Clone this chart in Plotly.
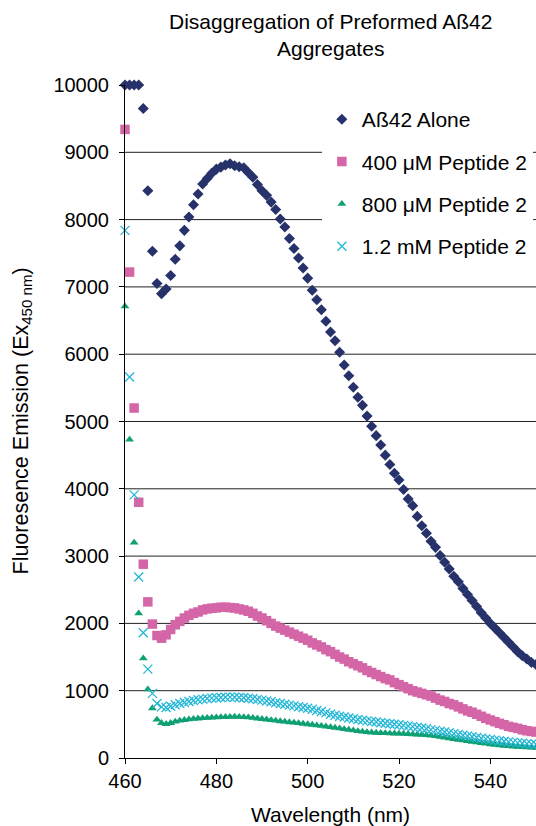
import plotly.graph_objects as go

wavelength = list(range(460, 551))

abeta_alone = [10000, 10000, 10000, 10000, 9650, 8430, 7530, 7050, 6900, 6970,
               7170, 7410, 7610, 7840, 8040, 8220, 8380, 8530, 8610, 8690,
               8750, 8780, 8810, 8830, 8800, 8785, 8770, 8700, 8630, 8520,
               8430, 8360, 8260, 8150, 8010, 7890, 7720, 7570, 7430, 7280,
               7130, 6950, 6810, 6660, 6490, 6330, 6200, 6030, 5840, 5680,
               5510, 5360, 5240, 5080, 4930, 4790, 4650, 4500, 4360, 4230,
               4130, 3990, 3850, 3750, 3590, 3450, 3340, 3220, 3130, 3010,
               2910, 2810, 2700, 2620, 2520, 2430, 2340, 2250, 2160, 2080,
               2000, 1930, 1860, 1790, 1720, 1650, 1580, 1520, 1470, 1420, 1390]

pep_400uM = [9340, 7220, 5200, 3800, 2880, 2320, 1990, 1820, 1780, 1830,
             1910, 1980, 2030, 2080, 2120, 2150, 2170, 2200, 2215, 2225,
             2230, 2240, 2240, 2235, 2230, 2215, 2200, 2180, 2150, 2110,
             2080, 2040, 2000, 1960, 1930, 1900, 1870, 1840, 1810, 1780,
             1750, 1710, 1680, 1650, 1610, 1580, 1540, 1500, 1470, 1430,
             1400, 1370, 1340, 1300, 1270, 1240, 1210, 1180, 1160, 1120,
             1090, 1060, 1030, 1000, 980, 960, 940, 920, 890, 860,
             840, 810, 790, 760, 730, 700, 680, 650, 620, 590,
             565, 540, 515, 495, 470, 455, 440, 420, 405, 395, 385]

pep_800uM = [6710, 4730, 3200, 2150, 1480, 1020, 740, 570, 520, 505,
             520, 540, 555, 565, 575, 582, 588, 593, 597, 601,
             605, 608, 610, 612, 613, 612, 608, 603, 596, 588,
             580, 572, 563, 555, 547, 540, 532, 525, 518, 510,
             502, 494, 486, 477, 468, 460, 450, 440, 430, 420,
             410, 400, 392, 385, 380, 376, 372, 369, 366, 364,
             362, 360, 357, 354, 350, 346, 341, 335, 326, 316,
             305, 294, 283, 272, 262, 252, 242, 232, 222, 213,
             205, 197, 190, 183, 177, 171, 166, 162, 158, 155, 152]

pep_1_2mM = [7840, 5660, 3910, 2690, 1860, 1320, 960, 810, 760, 750,
             770, 790, 810, 825, 840, 855, 865, 875, 885, 890,
             895, 900, 902, 905, 903, 900, 895, 888, 880, 870,
             860, 848, 835, 822, 810, 798, 786, 774, 762, 750,
             738, 724, 705, 690, 670, 650, 635, 620, 608, 595,
             583, 572, 562, 552, 543, 534, 525, 517, 510, 502,
             494, 485, 476, 466, 456, 445, 434, 422, 410, 398,
             386, 374, 362, 350, 338, 326, 315, 304, 294, 284,
             275, 266, 257, 248, 240, 232, 225, 218, 212, 206, 200]

series_names = ["Aß42 Alone", "400 μM Peptide 2", "800 μM Peptide 2", "1.2 mM Peptide 2"]
x_ticks = [460, 480, 500, 520, 540]
y_ticks = [0, 1000, 2000, 3000, 4000, 5000, 6000, 7000, 8000, 9000, 10000]
y_tick_labels = ["0", "1000", "2000", "3000", "4000", "5000", "6000", "7000",
                 "8000", "9000", "10000"]
grid_vals = [1000, 2000, 3000, 4000, 5000, 6000, 7000, 8000, 9000]

FONT = "Liberation Sans, Arial, Helvetica, sans-serif"

styles = [
    dict(symbol="diamond", size=8.5, color="#27326A"),
    dict(symbol="square", size=9.5, color="#D466A8"),
    dict(symbol="triangle-up", size=7.8, color="#0FA074"),
    dict(symbol="x-thin", size=9, color="#22B6D6"),
]
series = [abeta_alone, pep_400uM, pep_800uM, pep_1_2mM]

fig = go.Figure()
for i, (name, vals, st) in enumerate(zip(series_names, series, styles)):
    marker = dict(symbol=st["symbol"], size=st["size"], color=st["color"])
    if st["symbol"] == "x-thin":
        marker["line"] = dict(color=st["color"], width=1.3)
    else:
        marker["line"] = dict(width=0)
    fig.add_trace(go.Scatter(x=wavelength, y=vals, mode="markers", name=name,
                             marker=marker, cliponaxis=False,
                             legendgroup="g%d" % i))

# horizontal gridlines (no line at the top value), from the grid value list
shapes = [dict(type="line", xref="paper", yref="y", x0=0, x1=1, y0=v, y1=v,
               line=dict(color="#222222", width=1), layer="below")
          for v in grid_vals]

fig.update_layout(
    width=536, height=826,
    margin=dict(l=125, r=0, t=85, b=68),
    paper_bgcolor="white", plot_bgcolor="white",
    font=dict(family=FONT, size=20, color="black"),
    showlegend=True,
    legend=dict(x=0.479, y=0.979, xanchor="left", yanchor="top",
                bgcolor="white", borderwidth=0, tracegroupgap=12,
                font=dict(family=FONT, size=21, color="black")),
    xaxis=dict(range=[460, 550], tickvals=x_ticks, ticks="outside", ticklen=5,
               tickcolor="black", showline=True, linecolor="black", linewidth=1,
               showgrid=False, zeroline=False, tickfont=dict(size=20)),
    yaxis=dict(range=[0, 10000], tickvals=y_ticks, ticktext=y_tick_labels,
               ticks="outside", ticklen=5,
               tickcolor="black", showline=True, linecolor="black", linewidth=1,
               showgrid=False, zeroline=False, tickfont=dict(size=20),
               ticklabelstandoff=6),
    shapes=shapes,
    annotations=[
        dict(text="Disaggregation of Preformed Aß42<br>Aggregates",
             xref="paper", yref="paper", x=0.5, y=(758 - 35) / 673,
             xanchor="center", yanchor="middle", showarrow=False,
             font=dict(family=FONT, size=21, color="black")),
        dict(text="Fluoresence Emission (Ex<sub>450 nm</sub>)", textangle=-90,
             xref="paper", yref="paper", x=(22 - 125) / 411, y=0.5,
             xanchor="center", yanchor="middle", showarrow=False,
             font=dict(family=FONT, size=21.5, color="black")),
        dict(text="Wavelength (nm)", xref="paper", yref="paper",
             x=0.5, y=(758 - 814) / 673, xanchor="center", yanchor="middle",
             showarrow=False, font=dict(family=FONT, size=21, color="black")),
    ],
)

fig.write_html("out.html",
               config={"displayModeBar": False},
               post_script="document.body.style.margin='0';"
                           "document.body.style.overflow='hidden';")
